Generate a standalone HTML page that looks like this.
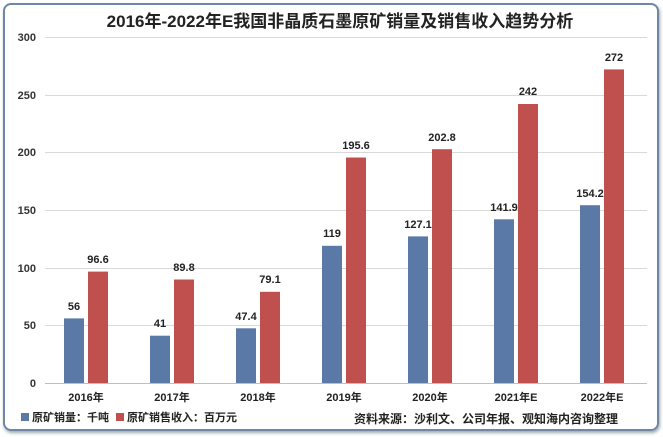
<!DOCTYPE html>
<html><head><meta charset="utf-8"><style>
html,body{margin:0;padding:0;background:#fff;}
body{width:663px;height:437px;position:relative;overflow:hidden;font-family:"Liberation Sans","Noto Sans CJK SC",sans-serif;}
.frame{position:absolute;left:3px;top:3px;width:652px;height:424px;border:2px solid #6f86a6;border-radius:8px;box-shadow:1px 2px 3px #9aa;}
</style></head><body>
<div class="frame"></div>
<svg width="663" height="437" style="position:absolute;left:0;top:0" font-family="Liberation Sans, Noto Sans CJK SC, sans-serif">
<text x="340" y="27" text-anchor="middle" font-size="17" font-weight="bold" fill="#222">2016年-2022年E我国非晶质石墨原矿销量及销售收入趋势分析</text>
<g stroke="#d9d9d9" stroke-width="1">
<line x1="45" x2="647" y1="37.5" y2="37.5"/><line x1="45" x2="647" y1="95.5" y2="95.5"/>
<line x1="45" x2="647" y1="152.5" y2="152.5"/><line x1="45" x2="647" y1="210.5" y2="210.5"/>
<line x1="45" x2="647" y1="268.5" y2="268.5"/><line x1="45" x2="647" y1="325.5" y2="325.5"/>
<line x1="45" x2="647" y1="383.5" y2="383.5" stroke="#bfbfbf"/>
</g>
<g font-size="11" font-weight="bold" fill="#333" text-anchor="end">
<text x="36" y="41">300</text><text x="36" y="99">250</text><text x="36" y="156">200</text>
<text x="36" y="214">150</text><text x="36" y="272">100</text><text x="36" y="329">50</text><text x="36" y="387">0</text>
</g>
<g id="bars"></g>
<g font-size="11" font-weight="bold" fill="#222" text-anchor="middle">
<!-- blue -->
<rect x="64" y="318.4" width="20" height="64.6" fill="#5b79a6"/><text x="74" y="310">56</text>
<rect x="150" y="335.7" width="20" height="47.3" fill="#5b79a6"/><text x="160" y="327">41</text>
<rect x="236" y="328.3" width="20" height="54.7" fill="#5b79a6"/><text x="246" y="320">47.4</text>
<rect x="322" y="245.8" width="20" height="137.2" fill="#5b79a6"/><text x="332" y="237">119</text>
<rect x="408" y="236.4" width="20" height="146.6" fill="#5b79a6"/><text x="418" y="228">127.1</text>
<rect x="494" y="219.3" width="20" height="163.7" fill="#5b79a6"/><text x="504" y="211">141.9</text>
<rect x="580" y="205.2" width="20" height="177.8" fill="#5b79a6"/><text x="590" y="197">154.2</text>
<!-- red -->
<rect x="88" y="271.6" width="20" height="111.4" fill="#c0504d"/><text x="98" y="263">96.6</text>
<rect x="174" y="279.5" width="20" height="103.5" fill="#c0504d"/><text x="184" y="271">89.8</text>
<rect x="260" y="291.8" width="20" height="91.2" fill="#c0504d"/><text x="270" y="283">79.1</text>
<rect x="346" y="157.5" width="20" height="225.5" fill="#c0504d"/><text x="356" y="149">195.6</text>
<rect x="432" y="149.2" width="20" height="233.8" fill="#c0504d"/><text x="442" y="141">202.8</text>
<rect x="518" y="104" width="20" height="279" fill="#c0504d"/><text x="528" y="95">242</text>
<rect x="604" y="69.4" width="20" height="313.6" fill="#c0504d"/><text x="614" y="61">272</text>
</g>
<g font-size="11" font-weight="bold" fill="#222" text-anchor="middle">
<text x="86" y="401">2016年</text><text x="172" y="401">2017年</text><text x="258" y="401">2018年</text>
<text x="344" y="401">2019年</text><text x="430" y="401">2020年</text><text x="516" y="401">2021年E</text><text x="602" y="401">2022年E</text>
</g>
<rect x="21" y="413" width="8" height="8" fill="#5b79a6"/>
<text x="32" y="421" font-size="11" font-weight="bold" fill="#222">原矿销量：千吨</text>
<rect x="116" y="413" width="8" height="8" fill="#c0504d"/>
<text x="127" y="421" font-size="11" font-weight="bold" fill="#222">原矿销售收入：百万元</text>
<text x="618" y="423" font-size="12" font-weight="bold" fill="#222" text-anchor="end">资料来源：沙利文、公司年报、观知海内咨询整理</text>
</svg>
</body></html>
